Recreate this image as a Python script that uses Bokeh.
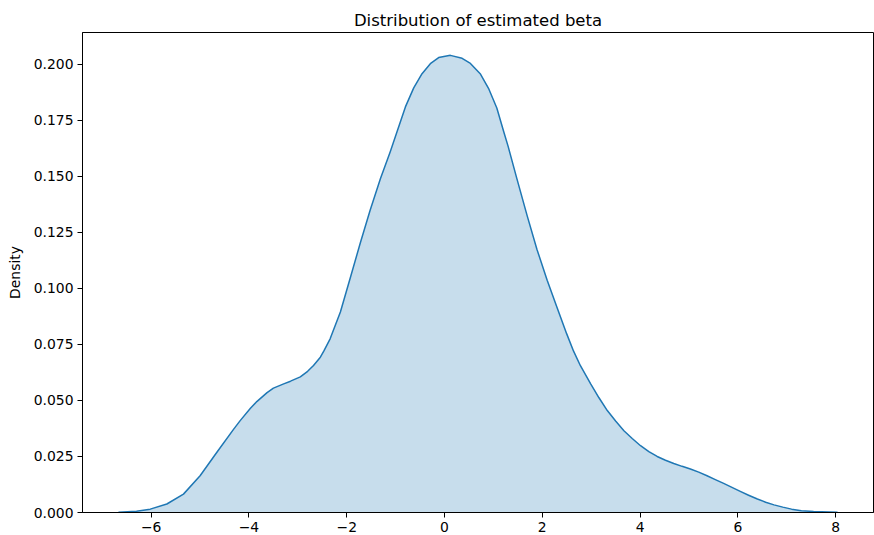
from bokeh.plotting import figure
from bokeh.models import FixedTicker, Range1d
from bokeh.embed import file_html
from bokeh.resources import INLINE

# Estimated beta values (x) and KDE density
beta = [-6.67, -6.30, -6.02, -5.68, -5.34, -5.00, -4.66, -4.32, -4.18, -3.97,
        -3.84, -3.63, -3.50, -3.29, -3.15, -2.95, -2.80, -2.68, -2.54, -2.47,
        -2.34, -2.13, -1.93, -1.72, -1.52, -1.31, -1.11, -0.97, -0.80, -0.63,
        -0.46, -0.29, -0.12, 0.12, 0.36, 0.53, 0.73, 0.90, 1.07, 1.21,
        1.30, 1.48, 1.69, 1.89, 2.10, 2.30, 2.50, 2.64, 2.78, 2.99,
        3.16, 3.33, 3.50, 3.67, 3.84, 4.01, 4.18, 4.35, 4.52, 4.69,
        4.86, 5.03, 5.20, 5.37, 5.54, 5.71, 5.88, 6.05, 6.22, 6.40,
        6.57, 6.74, 6.92, 7.10, 7.30, 7.55, 8.04]
density = [0.0001, 0.0006, 0.0015, 0.0038, 0.0082, 0.0164, 0.0268, 0.0370, 0.0410, 0.0465,
           0.0495, 0.0535, 0.0555, 0.0574, 0.0586, 0.0605, 0.0630, 0.0656, 0.0693, 0.0720,
           0.0775, 0.0895, 0.1045, 0.1205, 0.1350, 0.1490, 0.1610, 0.1700, 0.1810, 0.1895,
           0.1958, 0.2003, 0.2030, 0.2040, 0.2027, 0.2004, 0.1958, 0.1893, 0.1805, 0.1700,
           0.1635, 0.1490, 0.1325, 0.1175, 0.1036, 0.0916, 0.0797, 0.0720, 0.0655, 0.0574,
           0.0512, 0.0455, 0.0408, 0.0365, 0.0330, 0.0298, 0.0272, 0.0250, 0.0233, 0.0219,
           0.0206, 0.0194, 0.0180, 0.0164, 0.0147, 0.0130, 0.0112, 0.0094, 0.0077, 0.0060,
           0.0046, 0.0034, 0.0024, 0.0015, 0.0008, 0.0004, 0.0001]

x_ticks = [-6, -4, -2, 0, 2, 4, 6, 8]
y_ticks = [0.0, 0.025, 0.05, 0.075, 0.1, 0.125, 0.15, 0.175, 0.2]
title_text = "Distribution of estimated beta"
y_label = "Density"

span = max(beta) - min(beta)
x_range = Range1d(min(beta) - 0.05 * span, max(beta) + 0.05 * span)
y_range = Range1d(0, max(density) * 1.05)

p = figure(width=874, height=535, x_range=x_range, y_range=y_range,
           output_backend="svg", toolbar_location=None,
           min_border_left=82, min_border_right=1, min_border_top=32,
           min_border_bottom=23, title=title_text)

p.varea(x=beta, y1=[0] * len(beta), y2=density, fill_color="#1f77b4", fill_alpha=0.25)
p.line(x=beta, y=density, line_color="#1f77b4", line_width=1.5, line_join="round")

p.background_fill_color = "white"
p.border_fill_color = "white"
p.outline_line_color = "black"
p.outline_line_width = 1
p.xgrid.visible = False
p.ygrid.visible = False

p.title.text_font = "DejaVu Sans"
p.title.text_font_size = "16.5px"
p.title.text_font_style = "normal"
p.title.align = "center"
p.title.text_color = "black"
p.title.standoff = 6

for ax in (p.xaxis[0], p.yaxis[0]):
    ax.major_label_text_font = "DejaVu Sans"
    ax.major_label_text_font_size = "13.9px"
    ax.major_label_text_color = "black"
    ax.axis_line_color = "black"
    ax.major_tick_line_color = "black"
    ax.major_tick_out = 5
    ax.major_tick_in = 0
    ax.minor_tick_out = 0
    ax.minor_tick_in = 0
    ax.major_label_standoff = 4

p.xaxis.ticker = FixedTicker(ticks=x_ticks)
p.xaxis.major_label_overrides = {t: str(t).replace("-", "\u2212") for t in x_ticks}
p.yaxis.ticker = FixedTicker(ticks=y_ticks)
p.yaxis.major_label_overrides = {t: f"{t:.3f}" for t in y_ticks}

p.yaxis.axis_label = y_label
p.yaxis.axis_label_text_font = "DejaVu Sans"
p.yaxis.axis_label_text_font_size = "13.9px"
p.yaxis.axis_label_text_font_style = "normal"
p.yaxis.axis_label_text_color = "black"
p.yaxis.axis_label_standoff = 8

open("out.html", "w").write(file_html(p, INLINE))
